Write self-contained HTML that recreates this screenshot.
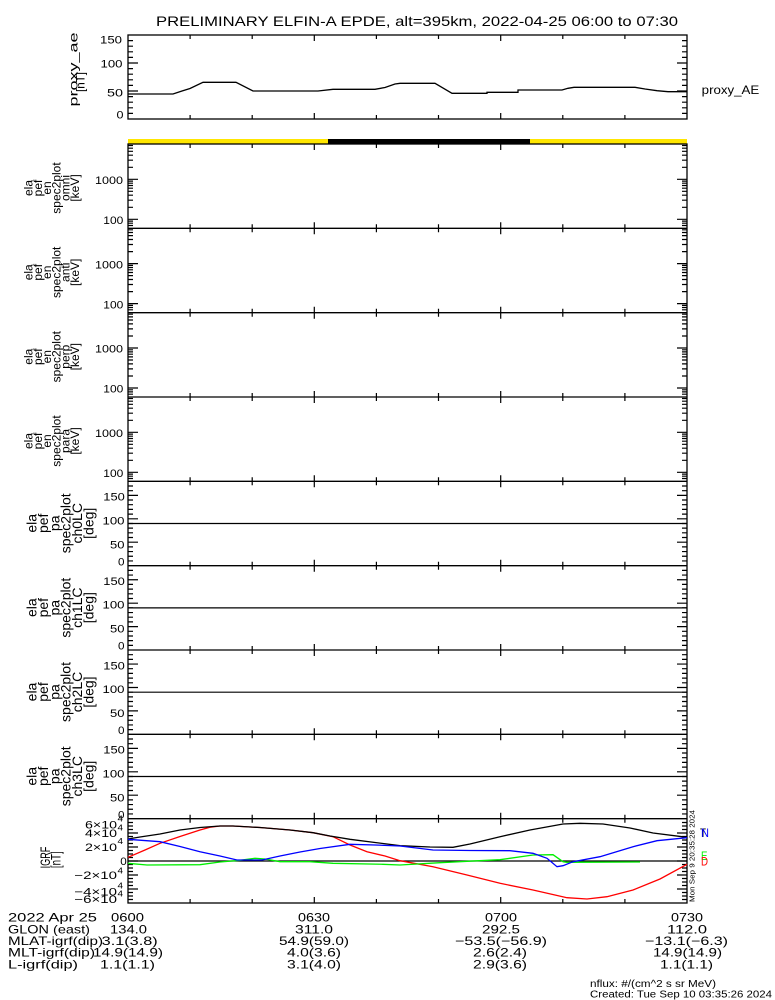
<!DOCTYPE html>
<html>
<head>
<meta charset="utf-8">
<style>
html,body{margin:0;padding:0;background:#fff;}
svg{display:block;}
text{font-family:"Liberation Sans",sans-serif;fill:#000;}
</style>
</head>
<body>
<svg width="775" height="1000" viewBox="0 0 775 1000" xmlns="http://www.w3.org/2000/svg">
<defs>
<path id="xtd" d="M190.1,0v4M252.2,0v4M314.3,0v6M376.4,0v4M438.5,0v4M500.7,0v6M562.8,0v4M624.9,0v4" stroke="#000" stroke-width="1.2" fill="none"/>
<path id="xtu" d="M190.1,0v-4M252.2,0v-4M314.3,0v-6M376.4,0v-4M438.5,0v-4M500.7,0v-6M562.8,0v-4M624.9,0v-4" stroke="#000" stroke-width="1.2" fill="none"/>
<path id="ye" d="M128,35.3h10M128,75.3h10M128,23.3h5M128,16.2h5M128,11.2h5M128,7.3h5M128,4.2h5M128,1.5h5M128,63.3h5M128,56.2h5M128,51.2h5M128,47.3h5M128,44.2h5M128,41.5h5M128,39.2h5M128,37.1h5M128,77.1h5M128,79.2h5M128,81.5h5" stroke="#000" stroke-width="1.2" fill="none"/>
<path id="yp" d="M128,60.9h10M128,37.5h10M128,14.05h10M128,79.65h5M128,74.96h5M128,70.27h5M128,65.6h5M128,56.2h5M128,51.5h5M128,46.85h5M128,42.17h5M128,32.8h5M128,28.1h5M128,23.4h5M128,18.7h5M128,9.37h5M128,4.68h5" stroke="#000" stroke-width="1.2" fill="none"/>
<path id="ya" d="M128,91h10M128,63h10M128,113.4h5M128,107.8h5M128,102.2h5M128,96.6h5M128,85.4h5M128,79.8h5M128,74.2h5M128,68.6h5M128,57.4h5M128,51.8h5M128,46.2h5M128,40.6h5" stroke="#000" stroke-width="1.2" fill="none"/>
<path id="yi" d="M128,833h10M128,847h10M128,861h10M128,875h10M128,889h10M128,822.5h5M128,826h5M128,829.5h5M128,836.5h5M128,840h5M128,843.5h5M128,850.5h5M128,854h5M128,857.5h5M128,864.5h5M128,868h5M128,871.5h5M128,878.5h5M128,882h5M128,885.5h5M128,892.5h5M128,896h5M128,899.5h5" stroke="#000" stroke-width="1.2" fill="none"/>
</defs>

<!-- Title -->
<text x="156" y="26" font-size="14" textLength="522" lengthAdjust="spacingAndGlyphs">PRELIMINARY ELFIN-A EPDE, alt=395km, 2022-04-25 06:00 to 07:30</text>

<!-- ===== proxy_ae panel ===== -->
<rect x="128" y="35" width="559" height="84" fill="none" stroke="#000" stroke-width="1.3"/>
<use href="#ya"/>
<use href="#ya" transform="translate(815,0) scale(-1,1)"/>
<use href="#xtd" transform="translate(0,35)"/>
<use href="#xtu" transform="translate(0,119)"/>
<polyline fill="none" stroke="#000" stroke-width="1.3" points="128,94 173,94 182,91 190,88.5 203,82.3 236,82.3 253,91 318,91 333,89.3 375,89.3 385,87.5 395,84 400,83.3 435,83.3 452,93.3 487,93.3 487,92.3 518,92.3 518,90 562,90 568,88.3 574,87.3 635,87.3 645,89 657,90.7 668,91.7 687,91.7"/>
<text x="100" y="43.5" font-size="11" textLength="22" lengthAdjust="spacingAndGlyphs">150</text>
<text x="100.5" y="67.5" font-size="11" textLength="22" lengthAdjust="spacingAndGlyphs">100</text>
<text x="107" y="96.5" font-size="11" textLength="16" lengthAdjust="spacingAndGlyphs">50</text>
<text x="116.5" y="118.3" font-size="11" textLength="7" lengthAdjust="spacingAndGlyphs">0</text>
<text transform="translate(77.5,69.5) rotate(-90)" text-anchor="middle" font-size="12" textLength="74" lengthAdjust="spacingAndGlyphs">proxy_ae</text>
<text transform="translate(84.5,82) rotate(-90)" text-anchor="middle" font-size="12" textLength="20" lengthAdjust="spacingAndGlyphs">[nT]</text>
<text x="701.7" y="94" font-size="12" textLength="57.6" lengthAdjust="spacingAndGlyphs">proxy_AE</text>

<!-- ===== sunlight bar ===== -->
<rect x="128" y="139" width="200" height="5" fill="#ffe600"/>
<rect x="328" y="139" width="202" height="5" fill="#000"/>
<rect x="530" y="139" width="157" height="5" fill="#ffe600"/>

<!-- ===== stacked panels frame ===== -->
<rect x="128" y="144" width="559" height="759" fill="none" stroke="#000" stroke-width="1.3"/>
<path d="M128,228.3H687M128,312.7H687M128,397H687M128,481.3H687M128,565.7H687M128,650H687M128,734.3H687M128,818.7H687" stroke="#000" stroke-width="1.3"/>
<path d="M128,523.5H687M128,607.9H687M128,692.2H687M128,776.5H687M128,861H687" stroke="#000" stroke-width="1.2"/>

<!-- x ticks -->
<use href="#xtd" transform="translate(0,144)"/>
<use href="#xtu" transform="translate(0,228.3)"/><use href="#xtd" transform="translate(0,228.3)"/>
<use href="#xtu" transform="translate(0,312.7)"/><use href="#xtd" transform="translate(0,312.7)"/>
<use href="#xtu" transform="translate(0,397)"/><use href="#xtd" transform="translate(0,397)"/>
<use href="#xtu" transform="translate(0,481.3)"/><use href="#xtd" transform="translate(0,481.3)"/>
<use href="#xtu" transform="translate(0,565.7)"/><use href="#xtd" transform="translate(0,565.7)"/>
<use href="#xtu" transform="translate(0,650)"/><use href="#xtd" transform="translate(0,650)"/>
<use href="#xtu" transform="translate(0,734.3)"/><use href="#xtd" transform="translate(0,734.3)"/>
<use href="#xtu" transform="translate(0,818.7)"/><use href="#xtd" transform="translate(0,818.7)"/>
<use href="#xtu" transform="translate(0,903)"/>

<!-- energy y ticks -->
<use href="#ye" transform="translate(0,144)"/><use href="#ye" transform="translate(815,144) scale(-1,1)"/>
<use href="#ye" transform="translate(0,228.3)"/><use href="#ye" transform="translate(815,228.3) scale(-1,1)"/>
<use href="#ye" transform="translate(0,312.7)"/><use href="#ye" transform="translate(815,312.7) scale(-1,1)"/>
<use href="#ye" transform="translate(0,397)"/><use href="#ye" transform="translate(815,397) scale(-1,1)"/>
<!-- pitch y ticks -->
<use href="#yp" transform="translate(0,481.3)"/><use href="#yp" transform="translate(815,481.3) scale(-1,1)"/>
<use href="#yp" transform="translate(0,565.7)"/><use href="#yp" transform="translate(815,565.7) scale(-1,1)"/>
<use href="#yp" transform="translate(0,650)"/><use href="#yp" transform="translate(815,650) scale(-1,1)"/>
<use href="#yp" transform="translate(0,734.3)"/><use href="#yp" transform="translate(815,734.3) scale(-1,1)"/>
<!-- IGRF y ticks -->
<use href="#yi"/><use href="#yi" transform="translate(815,0) scale(-1,1)"/>

<!-- energy tick labels -->
<g font-size="11">
<text x="95" y="184" textLength="28" lengthAdjust="spacingAndGlyphs">1000</text>
<text x="103.3" y="224" textLength="20" lengthAdjust="spacingAndGlyphs">100</text>
<text x="95" y="268.3" textLength="28" lengthAdjust="spacingAndGlyphs">1000</text>
<text x="103.3" y="308.3" textLength="20" lengthAdjust="spacingAndGlyphs">100</text>
<text x="95" y="352.7" textLength="28" lengthAdjust="spacingAndGlyphs">1000</text>
<text x="103.3" y="392.7" textLength="20" lengthAdjust="spacingAndGlyphs">100</text>
<text x="95" y="437" textLength="28" lengthAdjust="spacingAndGlyphs">1000</text>
<text x="103.3" y="477" textLength="20" lengthAdjust="spacingAndGlyphs">100</text>
</g>

<!-- pitch tick labels -->
<g font-size="11">
<text x="103.3" y="500.7" textLength="21.5" lengthAdjust="spacingAndGlyphs">150</text>
<text x="102.5" y="524.3" textLength="22" lengthAdjust="spacingAndGlyphs">100</text>
<text x="110" y="548.3" textLength="14.5" lengthAdjust="spacingAndGlyphs">50</text>
<text x="118" y="565.3" textLength="6.5" lengthAdjust="spacingAndGlyphs">0</text>

<text x="103.3" y="585.1" textLength="21.5" lengthAdjust="spacingAndGlyphs">150</text>
<text x="102.5" y="608.7" textLength="22" lengthAdjust="spacingAndGlyphs">100</text>
<text x="110" y="632.7" textLength="14.5" lengthAdjust="spacingAndGlyphs">50</text>
<text x="118" y="649.7" textLength="6.5" lengthAdjust="spacingAndGlyphs">0</text>

<text x="103.3" y="669.4" textLength="21.5" lengthAdjust="spacingAndGlyphs">150</text>
<text x="102.5" y="693" textLength="22" lengthAdjust="spacingAndGlyphs">100</text>
<text x="110" y="717" textLength="14.5" lengthAdjust="spacingAndGlyphs">50</text>
<text x="118" y="734" textLength="6.5" lengthAdjust="spacingAndGlyphs">0</text>

<text x="103.3" y="753.7" textLength="21.5" lengthAdjust="spacingAndGlyphs">150</text>
<text x="102.5" y="777.3" textLength="22" lengthAdjust="spacingAndGlyphs">100</text>
<text x="110" y="801.3" textLength="14.5" lengthAdjust="spacingAndGlyphs">50</text>
<text x="118" y="818.3" textLength="6.5" lengthAdjust="spacingAndGlyphs">0</text>
</g>

<!-- energy panel labels -->
<g font-size="12" text-anchor="middle">
<text transform="translate(32.5,188) rotate(-90)">ela</text>
<text transform="translate(41.8,188) rotate(-90)">pef</text>
<text transform="translate(51.1,188) rotate(-90)">en</text>
<text transform="translate(60.4,188) rotate(-90)">spec2plot</text>
<text transform="translate(69.7,188) rotate(-90)">omni</text>
<text transform="translate(79,188) rotate(-90)">[keV]</text>

<text transform="translate(32.5,272.3) rotate(-90)">ela</text>
<text transform="translate(41.8,272.3) rotate(-90)">pef</text>
<text transform="translate(51.1,272.3) rotate(-90)">en</text>
<text transform="translate(60.4,272.3) rotate(-90)">spec2plot</text>
<text transform="translate(69.7,272.3) rotate(-90)">anti</text>
<text transform="translate(79,272.3) rotate(-90)">[keV]</text>

<text transform="translate(32.5,356.7) rotate(-90)">ela</text>
<text transform="translate(41.8,356.7) rotate(-90)">pef</text>
<text transform="translate(51.1,356.7) rotate(-90)">en</text>
<text transform="translate(60.4,356.7) rotate(-90)">spec2plot</text>
<text transform="translate(69.7,356.7) rotate(-90)">perp</text>
<text transform="translate(79,356.7) rotate(-90)">[keV]</text>

<text transform="translate(32.5,441) rotate(-90)">ela</text>
<text transform="translate(41.8,441) rotate(-90)">pef</text>
<text transform="translate(51.1,441) rotate(-90)">en</text>
<text transform="translate(60.4,441) rotate(-90)">spec2plot</text>
<text transform="translate(69.7,441) rotate(-90)">para</text>
<text transform="translate(79,441) rotate(-90)">[keV]</text>
</g>

<!-- pitch panel labels -->
<g font-size="14" text-anchor="middle">
<text transform="translate(36.5,523.3) rotate(-90)">ela</text>
<text transform="translate(47.9,523.3) rotate(-90)">pef</text>
<text transform="translate(59.3,523.3) rotate(-90)">pa</text>
<text transform="translate(70.7,523.3) rotate(-90)">spec2plot</text>
<text transform="translate(82.1,523.3) rotate(-90)">ch0LC</text>
<text transform="translate(93.5,523.3) rotate(-90)">[deg]</text>

<text transform="translate(36.5,607.7) rotate(-90)">ela</text>
<text transform="translate(47.9,607.7) rotate(-90)">pef</text>
<text transform="translate(59.3,607.7) rotate(-90)">pa</text>
<text transform="translate(70.7,607.7) rotate(-90)">spec2plot</text>
<text transform="translate(82.1,607.7) rotate(-90)">ch1LC</text>
<text transform="translate(93.5,607.7) rotate(-90)">[deg]</text>

<text transform="translate(36.5,692) rotate(-90)">ela</text>
<text transform="translate(47.9,692) rotate(-90)">pef</text>
<text transform="translate(59.3,692) rotate(-90)">pa</text>
<text transform="translate(70.7,692) rotate(-90)">spec2plot</text>
<text transform="translate(82.1,692) rotate(-90)">ch2LC</text>
<text transform="translate(93.5,692) rotate(-90)">[deg]</text>

<text transform="translate(36.5,776.3) rotate(-90)">ela</text>
<text transform="translate(47.9,776.3) rotate(-90)">pef</text>
<text transform="translate(59.3,776.3) rotate(-90)">pa</text>
<text transform="translate(70.7,776.3) rotate(-90)">spec2plot</text>
<text transform="translate(82.1,776.3) rotate(-90)">ch3LC</text>
<text transform="translate(93.5,776.3) rotate(-90)">[deg]</text>
</g>

<!-- IGRF panel labels -->
<text transform="translate(50,857.5) rotate(-90) scale(0.65,1)" text-anchor="middle" font-size="14">IGRF</text>
<text transform="translate(60.5,859.7) rotate(-90) scale(0.7,1)" text-anchor="middle" font-size="14">[nT]</text>

<g font-size="11">
<text x="85" y="828.3" textLength="32" lengthAdjust="spacingAndGlyphs">6×10</text>
<text x="117.5" y="821.5" font-size="8" textLength="5.5" lengthAdjust="spacingAndGlyphs">4</text>
<text x="85" y="837" textLength="32" lengthAdjust="spacingAndGlyphs">4×10</text>
<text x="117.5" y="830.5" font-size="8" textLength="5.5" lengthAdjust="spacingAndGlyphs">4</text>
<text x="85" y="851" textLength="32" lengthAdjust="spacingAndGlyphs">2×10</text>
<text x="117.5" y="844" font-size="8" textLength="5.5" lengthAdjust="spacingAndGlyphs">4</text>
<text x="120.3" y="865" textLength="6.5" lengthAdjust="spacingAndGlyphs">0</text>
<text x="74.3" y="879" textLength="42.7" lengthAdjust="spacingAndGlyphs">−2×10</text>
<text x="117.5" y="873.5" font-size="8" textLength="5.5" lengthAdjust="spacingAndGlyphs">4</text>
<text x="74.3" y="895.5" textLength="42.7" lengthAdjust="spacingAndGlyphs">−4×10</text>
<text x="117.5" y="888.5" font-size="8" textLength="5.5" lengthAdjust="spacingAndGlyphs">4</text>
<text x="74.3" y="903" textLength="42.7" lengthAdjust="spacingAndGlyphs">−6×10</text>
<text x="117.5" y="896.5" font-size="8" textLength="5.5" lengthAdjust="spacingAndGlyphs">4</text>
</g>

<!-- IGRF curves -->
<polyline fill="none" stroke="#ff0000" stroke-width="1.3" points="128,857.3 145,850 160,843.3 180,836.5 200,830 210,827.2 220,826 233,826 260,827.5 290,830 313,832.7 333,836.7 350,845 367,851.7 385,856 400,860.7 433,866.7 467,875 500,883.3 533,890 567,897.7 587,899 607,896.7 633,890 660,879 687,864.3"/>
<polyline fill="none" stroke="#000" stroke-width="1.3" points="128,839 140,837 160,834 180,830 200,827.5 220,826 233,826 260,827.5 290,830 313,832.7 330,836 350,839.3 375,842.5 400,845.7 430,847 453,847.3 470,844 500,836.7 530,830 563,824 580,823.3 603,824 630,828 653,833 687,837.3"/>
<polyline fill="none" stroke="#00ee00" stroke-width="1.3" points="128,863.3 147,865 200,864.7 220,862 240,860.3 255,858.3 265,859 280,861.7 310,861.7 333,863.3 383,864.3 400,865 440,862.7 467,861.3 500,859.7 533,855 553,854.7 563,861.7 567,862.3 640,862"/>
<polyline fill="none" stroke="#0000ff" stroke-width="1.3" points="128,839.3 160,841.7 180,846.5 200,851.7 220,856 237,860 262,860 280,856 300,852 320,848.5 350,844.3 375,845 400,846 433,850 470,850.5 510,850.7 533,853.3 547,858.3 557,866.7 563,865.7 573,861.7 600,856.7 633,846.7 657,840.7 687,837.7"/>

<!-- component labels -->
<text x="700" y="837" font-size="12" textLength="6" lengthAdjust="spacingAndGlyphs">T</text>
<text x="701" y="837" font-size="12" style="fill:#0000ff" textLength="8" lengthAdjust="spacingAndGlyphs">N</text>
<text x="701" y="860" font-size="12" style="fill:#00ee00" textLength="6.5" lengthAdjust="spacingAndGlyphs">E</text>
<text x="701" y="865.7" font-size="12" style="fill:#ff0000" textLength="7" lengthAdjust="spacingAndGlyphs">D</text>

<!-- timestamp rotated -->
<text transform="translate(694.5,856) rotate(-90)" text-anchor="middle" font-size="7" textLength="92" lengthAdjust="spacingAndGlyphs">Mon Sep  9 20:35:28 2024</text>

<!-- bottom annotation -->
<g font-size="12">
<text x="8" y="921.7" textLength="89" lengthAdjust="spacingAndGlyphs">2022 Apr 25</text>
<text x="111" y="921.7" textLength="33" lengthAdjust="spacingAndGlyphs">0600</text>
<text x="298" y="921.7" textLength="32" lengthAdjust="spacingAndGlyphs">0630</text>
<text x="485" y="921.7" textLength="32" lengthAdjust="spacingAndGlyphs">0700</text>
<text x="671" y="921.7" textLength="32" lengthAdjust="spacingAndGlyphs">0730</text>

<text x="8" y="933.3" textLength="82" lengthAdjust="spacingAndGlyphs">GLON (east)</text>
<text x="110" y="933.3" textLength="37" lengthAdjust="spacingAndGlyphs">134.0</text>
<text x="295" y="933.3" textLength="38" lengthAdjust="spacingAndGlyphs">311.0</text>
<text x="482" y="933.3" textLength="38" lengthAdjust="spacingAndGlyphs">292.5</text>
<text x="667" y="933.3" textLength="40" lengthAdjust="spacingAndGlyphs">112.0</text>

<text x="8" y="945" textLength="95" lengthAdjust="spacingAndGlyphs">MLAT-igrf(dip)</text>
<text x="101.7" y="945" textLength="56" lengthAdjust="spacingAndGlyphs">3.1(3.8)</text>
<text x="279" y="945" textLength="70" lengthAdjust="spacingAndGlyphs">54.9(59.0)</text>
<text x="455" y="945" textLength="92" lengthAdjust="spacingAndGlyphs">−53.5(−56.9)</text>
<text x="645" y="945" textLength="83" lengthAdjust="spacingAndGlyphs">−13.1(−6.3)</text>

<text x="8" y="956.7" textLength="87" lengthAdjust="spacingAndGlyphs">MLT-igrf(dip)</text>
<text x="93" y="956.7" textLength="70" lengthAdjust="spacingAndGlyphs">14.9(14.9)</text>
<text x="287" y="956.7" textLength="54" lengthAdjust="spacingAndGlyphs">4.0(3.6)</text>
<text x="473" y="956.7" textLength="54" lengthAdjust="spacingAndGlyphs">2.6(2.4)</text>
<text x="653" y="956.7" textLength="69" lengthAdjust="spacingAndGlyphs">14.9(14.9)</text>

<text x="8" y="968.3" textLength="70" lengthAdjust="spacingAndGlyphs">L-igrf(dip)</text>
<text x="100" y="968.3" textLength="55" lengthAdjust="spacingAndGlyphs">1.1(1.1)</text>
<text x="287" y="968.3" textLength="54" lengthAdjust="spacingAndGlyphs">3.1(4.0)</text>
<text x="473" y="968.3" textLength="54" lengthAdjust="spacingAndGlyphs">2.9(3.6)</text>
<text x="660" y="968.3" textLength="53" lengthAdjust="spacingAndGlyphs">1.1(1.1)</text>
</g>

<text x="590" y="987" font-size="10" textLength="126" lengthAdjust="spacingAndGlyphs">nflux: #/(cm^2 s sr MeV)</text>
<text x="590" y="997.7" font-size="10" textLength="182" lengthAdjust="spacingAndGlyphs">Created: Tue Sep 10 03:35:26 2024</text>
</svg>
</body>
</html>
